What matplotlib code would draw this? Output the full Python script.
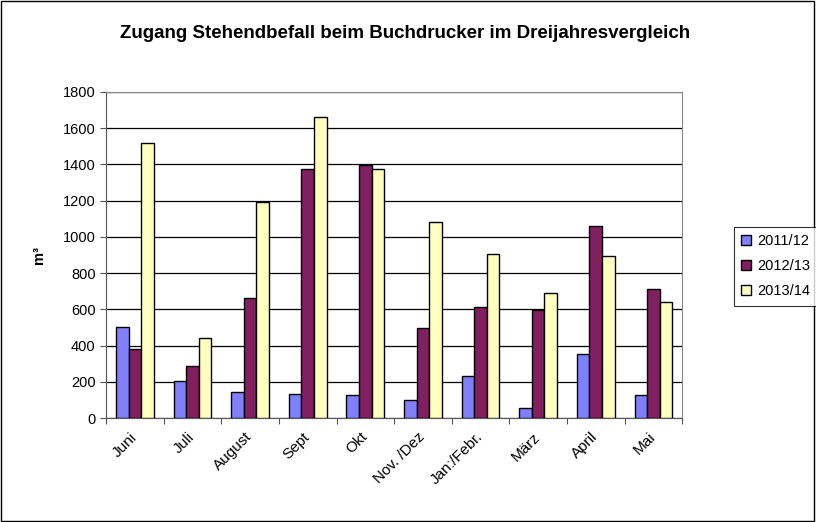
import numpy as np
import matplotlib.pyplot as plt

plt.rcParams['font.family'] = ['Liberation Sans', 'DejaVu Sans']

months = ['Juni', 'Juli', 'August', 'Sept', 'Okt', 'Nov. /Dez', 'Jan:/Febr.', 'März', 'April', 'Mai']
s2011 = [502, 203, 144, 135, 127, 101, 231, 57, 356, 127]
s2012 = [382, 288, 665, 1374, 1398, 495, 613, 596, 1058, 714]
s2013 = [1519, 443, 1193, 1663, 1374, 1082, 905, 692, 895, 639]
labels = ['2011/12', '2012/13', '2013/14']
colors = ['#8080FF', '#802060', '#FFFFC0']

fig = plt.figure(figsize=(8.16, 5.22), dpi=100)
ax = fig.add_axes([0.130, 0.199, 0.706, 0.625])

x = np.arange(len(months))
w = 0.218
for i, (vals, lab, c) in enumerate(zip([s2011, s2012, s2013], labels, colors)):
    ax.bar(x + (i - 1) * w, vals, w, color=c, edgecolor='black', linewidth=1.0,
           label=lab, zorder=3)

ax.set_xlim(-0.5, len(months) - 0.5)
ax.set_ylim(0, 1800)
ax.set_yticks(range(0, 1801, 200))
ax.yaxis.grid(True, color='black', linewidth=0.9, zorder=0)
ax.set_xticks(np.arange(-0.5, len(months), 1.0), minor=False)
ax.set_xticklabels([])
ax.set_xticks(x, minor=True)
ax.set_xticklabels(months, minor=True, rotation=45, ha='right', va='center',
                   rotation_mode='anchor', fontsize=11)
ax.tick_params(axis='x', which='minor', length=0, pad=12)
ax.tick_params(axis='x', which='major', length=4, direction='out', color='#555555')
ax.tick_params(axis='y', length=4, direction='out', labelsize=10.5, color='#555555')

for side in ['top', 'right']:
    ax.spines[side].set_color('#888888')
ax.spines['left'].set_color('#555555')
ax.spines['bottom'].set_color('#555555')

ax.set_ylabel('m³', fontweight='bold', fontsize=10.5, labelpad=12)
fig.text(0.497, 0.935, 'Zugang Stehendbefall beim Buchdrucker im Dreijahresvergleich',
         ha='center', va='center', fontsize=13.5, fontweight='bold')

leg = fig.legend(loc='upper left', bbox_to_anchor=(0.899, 0.565), fontsize=10.5,
                 frameon=True, fancybox=False, edgecolor='black', handlelength=0.7,
                 handleheight=0.7, handletextpad=0.4, borderpad=0.5, labelspacing=0.75,
                 borderaxespad=0)
leg.get_frame().set_linewidth(0.8)

fig.patches.append(plt.Rectangle((0.001, 0.002), 0.997, 0.996, transform=fig.transFigure,
                                 fill=False, edgecolor='black', linewidth=1.0))

plt.savefig('out.png', dpi=100)
